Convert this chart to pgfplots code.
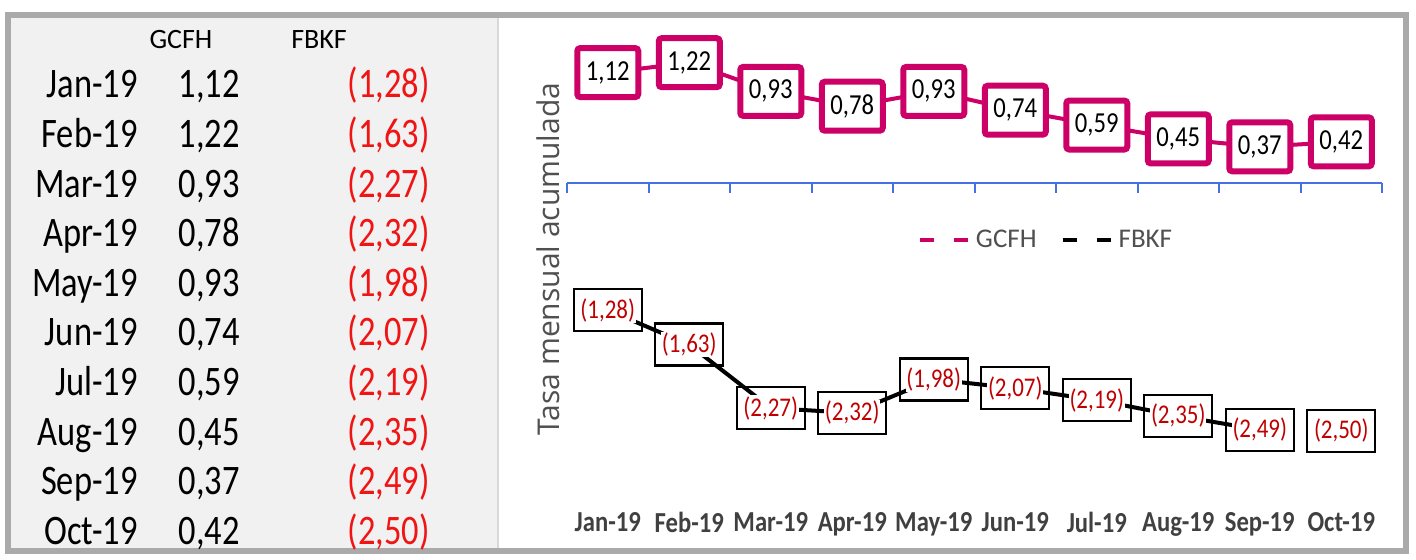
\documentclass[border=0pt]{standalone}
\usepackage{pgfplots}
\usepackage{pgfplotstable}
\pgfplotsset{compat=1.18}
\usepackage{fontspec}
\setmainfont{Carlito}
\newfontfamily\tablefont[FakeStretch=0.82]{Carlito}
\newfontfamily\labelfont[FakeStretch=0.85]{Carlito}
\newfontfamily\axisfont{Open Sans}

\definecolor{gcfh}{RGB}{204,0,102}
\definecolor{fbkfred}{RGB}{192,0,0}
\definecolor{tabred}{RGB}{240,20,20}
\definecolor{axisblue}{RGB}{68,114,228}
\definecolor{textgray}{RGB}{64,64,64}
\definecolor{labelgray}{RGB}{80,80,80}
\definecolor{panel}{RGB}{241,241,241}
\definecolor{frame}{RGB}{170,170,170}

\pgfkeys{/pgf/number format/.cd, use comma, fixed, fixed zerofill, precision=2, assume math mode=true}

% tasa mensual acumulada (%)
\pgfplotstableread{
idx mes    GCFH  FBKF
0   Jan-19 1.12 -1.28
1   Feb-19 1.22 -1.63
2   Mar-19 0.93 -2.27
3   Apr-19 0.78 -2.32
4   May-19 0.93 -1.98
5   Jun-19 0.74 -2.07
6   Jul-19 0.59 -2.19
7   Aug-19 0.45 -2.35
8   Sep-19 0.37 -2.49
9   Oct-19 0.42 -2.50
}\datos

\begin{document}
\begin{tikzpicture}
\useasboundingbox (0pt,0pt) rectangle (708pt,280pt);
\fill[white] (0pt,0pt) rectangle (708pt,280pt);

% frame and table panel (pixel-like units, y downwards)
\begin{scope}[x=0.5pt, y=-0.5pt, shift={(0pt,280pt)}]
  \fill[white] (10,17) rectangle (1404,549);
  \fill[panel] (10,17) rectangle (498,549);
  \draw[black!15, line width=1pt] (498,17) -- (498,549);
  \draw[frame, line width=3pt] (8,15) rectangle (1406,551);

  \node[font=\fontsize{14}{14}\selectfont, anchor=base] at (181,49) {GCFH};
  \node[font=\fontsize{14}{14}\selectfont, anchor=base] at (319,49) {FBKF};

  \pgfplotstablegetrowsof{\datos}
  \pgfmathtruncatemacro{\lastrow}{\pgfplotsretval-1}
  \foreach \i in {0,...,\lastrow}{
    \pgfplotstablegetelem{\i}{mes}\of\datos \let\mes\pgfplotsretval
    \pgfplotstablegetelem{\i}{GCFH}\of\datos \let\vg\pgfplotsretval
    \pgfplotstablegetelem{\i}{FBKF}\of\datos \let\vf\pgfplotsretval
    \pgfmathsetmacro{\vfa}{abs(\vf)}
    \pgfmathsetmacro{\yb}{98+49.6*\i}
    \node[font=\tablefont\fontsize{21}{21}\selectfont, anchor=base east, inner sep=0pt] at (138,\yb) {\mes};
    \node[font=\tablefont\fontsize{21}{21}\selectfont, anchor=base east, inner sep=0pt] at (240,\yb) {\pgfmathprintnumber{\vg}};
    \node[font=\tablefont\fontsize{21}{21}\selectfont, anchor=base east, inner sep=0pt, text=tabred] at (430,\yb) {(\pgfmathprintnumber{\vfa})};
  }
\end{scope}

\begin{axis}[
  at={(283.5pt,27.5pt)}, anchor=south west,
  width=407.5pt, height=235pt, scale only axis,
  xmin=-0.5, xmax=9.5, ymin=-3.25, ymax=1.5,
  axis line style={draw=none}, tick style={draw=none},
  ytick=\empty,
  xtick={0,...,9},
  xticklabels from table={\datos}{mes},
  xticklabel style={font=\labelfont\bfseries\fontsize{14.5}{14.5}\selectfont, text=textgray},
  clip=false,
  ylabel={Tasa mensual acumulada},
  every axis y label/.style={at={(rel axis cs:-0.0233,0.523)}, rotate=90, anchor=center,
    font=\axisfont\fontsize{15}{15}\selectfont, text=labelgray},
  legend style={at={(0.589,0.564)}, anchor=center, draw=none, fill=none,
    font=\fontsize{13.5}{13.5}\selectfont, text=labelgray,
    /tikz/every even column/.append style={column sep=10pt}},
  legend columns=2,
]
  % horizontal axis at zero
  \draw[axisblue, line width=1pt] (axis cs:-0.5,0) -- (axis cs:9.5,0);
  \pgfplotsinvokeforeach{-0.5,0.5,...,9.5}{
    \draw[axisblue, line width=1pt] (axis cs:#1,0) -- ++(0pt,-5pt);
  }

  % GCFH
  \addplot[gcfh, line width=2pt, mark=none,
    legend image code/.code={\draw[line width=2pt, dash pattern=on 7pt off 10pt] (0pt,0pt) -- (25pt,0pt);},
    nodes near coords,
    every node near coord/.append style={anchor=center, draw=gcfh, line width=3pt, fill=white,
      rounded corners=1.5pt, minimum width=30.5pt, minimum height=24.5pt, inner sep=0pt,
      text=black, font=\labelfont\fontsize{14.5}{14.5}\selectfont}]
    table[x=idx, y=GCFH] {\datos};
  \addlegendentry{GCFH}

  % FBKF boxes
  \addplot[draw=none, mark=none, forget plot,
    nodes near coords={},
    every node near coord/.append style={anchor=center, draw=black, line width=1.2pt,
      minimum width=34pt, minimum height=21pt, inner sep=0pt}]
    table[x=idx, y=FBKF] {\datos};

  % FBKF line (January to September)
  \addplot[black, line width=2pt, mark=none, restrict x to domain=0:8,
    legend image code/.code={\draw[line width=2pt, dash pattern=on 7pt off 10pt] (0pt,0pt) -- (25pt,0pt);}]
    table[x=idx, y=FBKF] {\datos};
  \addlegendentry{FBKF}

  % FBKF labels
  \addplot[draw=none, mark=none, forget plot,
    point meta={-1*\thisrow{FBKF}},
    nodes near coords={(\pgfmathprintnumber{\pgfplotspointmeta})},
    every node near coord/.append style={anchor=center, fill=white, inner sep=0.4pt,
      text=fbkfred, font=\labelfont\fontsize{13.5}{13.5}\selectfont}]
    table[x=idx, y=FBKF] {\datos};
\end{axis}
\end{tikzpicture}
\end{document}
